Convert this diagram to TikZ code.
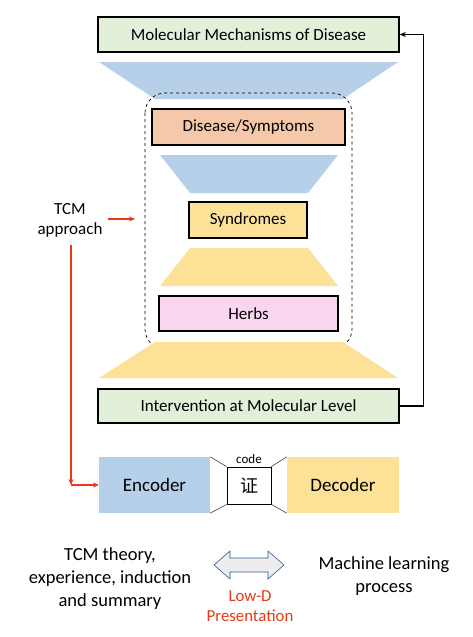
\documentclass[tikz,border=0pt]{standalone}
\usepackage{fontspec}
\setmainfont{Carlito}
\newfontfamily\cjk{Noto Sans CJK SC}
\usepackage{xcolor}
\usetikzlibrary{arrows.meta,positioning,calc}

\definecolor{boxgreen}{HTML}{E2EFD9}
\definecolor{funnelblue}{HTML}{B7D0E9}
\definecolor{funnelyellow}{HTML}{FDE197}
\definecolor{boxsalmon}{HTML}{F4C8A8}
\definecolor{boxpink}{HTML}{F8D6F0}
\definecolor{tcmred}{RGB}{232,58,20}
\definecolor{arrowblue}{HTML}{2F5597}

\begin{document}
\begin{tikzpicture}[
  x=1pt, y=-1pt,
  font=\fontsize{17}{20}\selectfont,
  % Node styles
  level/.style={rectangle, draw=black, line width=1.6pt, inner sep=0pt, align=center},
  stage/.style={rectangle, draw=none, inner sep=0pt, align=center, minimum width=111, minimum height=56, font=\fontsize{19}{22}\selectfont},
  caption/.style={align=center, inner sep=0pt, font=\fontsize{18.5}{23}\selectfont},
  fb/.style={-{Stealth[length=6pt,width=5pt]}, line width=1.2pt, color=black},
  redarr/.style={-{Stealth[length=6pt,width=5pt]}, line width=1.2pt, color=tcmred},
  neck/.style={line width=0.6pt, color=black!75}
]
  \useasboundingbox (0,0) rectangle (472,637);

  % ============================================
  % Funnel: levels and trapezoids
  % ============================================
  \node[level, fill=boxgreen, minimum width=301, minimum height=35] (top) at (248.5,34.5) {Molecular Mechanisms of Disease};
  \fill[funnelblue] (99,62) -- (398,62) -- (343,99) -- (155,99) -- cycle;

  \draw[dashed, line width=0.7pt, rounded corners=20pt] (145,93) rectangle (352,349);

  \node[level, fill=boxsalmon, minimum width=193, minimum height=36] (dis) at (248.5,127) {Disease/Symptoms};
  \fill[funnelblue] (160,155) -- (338,155) -- (308,193) -- (190,193) -- cycle;

  \node[level, fill=funnelyellow, minimum width=118, minimum height=36] (syn) at (248,220) {Syndromes};
  \fill[funnelyellow] (190,248) -- (308,248) -- (338,286) -- (160,286) -- cycle;

  \node[level, fill=boxpink, minimum width=179, minimum height=35] (herb) at (248.5,313.5) {Herbs};
  \fill[funnelyellow] (155,342) -- (343,342) -- (398,378) -- (99,378) -- cycle;

  \node[level, fill=boxgreen, minimum width=301, minimum height=34] (inter) at (248.5,406) {Intervention at Molecular Level};

  % Feedback loop
  \draw[fb] (inter.east) -- ++(24,0) |- (top.east);

  % ============================================
  % TCM approach
  % ============================================
  \node[align=center, inner sep=0pt, font=\fontsize{17}{20}\selectfont] (tcm) at (70,220) {TCM\\approach};
  \coordinate (tcmin) at (135,219);
  \coordinate (turn) at (71,485);
  \draw[redarr] (108,219) -- (tcmin);
  \draw[redarr] ([yshift=-8pt]tcm.south -| turn) -- (turn);
  \draw[redarr] (turn) -- (99,485);

  % ============================================
  % Encoder / code / Decoder
  % ============================================
  \node[stage, fill=funnelblue] (enc) at (154.5,485) {Encoder};
  \node[stage, fill=funnelyellow, minimum width=112] (dec) at (343,485) {Decoder};
  \node[draw=black, line width=0.8pt, fill=white, minimum width=44, minimum height=37, inner sep=0pt, font=\cjk\fontsize{18}{20}\selectfont] (code) at (249,485.5) {证};
  \node[above=3pt of code, inner sep=0pt, font=\fontsize{13}{15}\selectfont] (codelbl) {code};

  \draw[neck] (enc.north east) -- (code.north west);
  \draw[neck] (enc.south east) -- (code.south west);
  \draw[neck] (dec.north west) -- (code.north east);
  \draw[neck] (dec.south west) -- (code.south east);

  % ============================================
  % Bottom captions
  % ============================================
  \node[caption] (theory) at (110,579) {TCM theory,\\experience, induction\\and summary};
  \node[caption] (ml) at (384,576) {Machine learning\\process};
  \filldraw[fill=black!7, draw=arrowblue, line width=0.6pt]
    (214,565) -- (230,551) -- (230,558) -- (268,558) -- (268,551) -- (284,565)
    -- (268,579) -- (268,572) -- (230,572) -- (230,579) -- cycle;
  \node[align=center, inner sep=0pt, text=tcmred, font=\fontsize{16.8}{20}\selectfont] (lowd) at (250,606) {Low-D\\Presentation};

\end{tikzpicture}
\end{document}
